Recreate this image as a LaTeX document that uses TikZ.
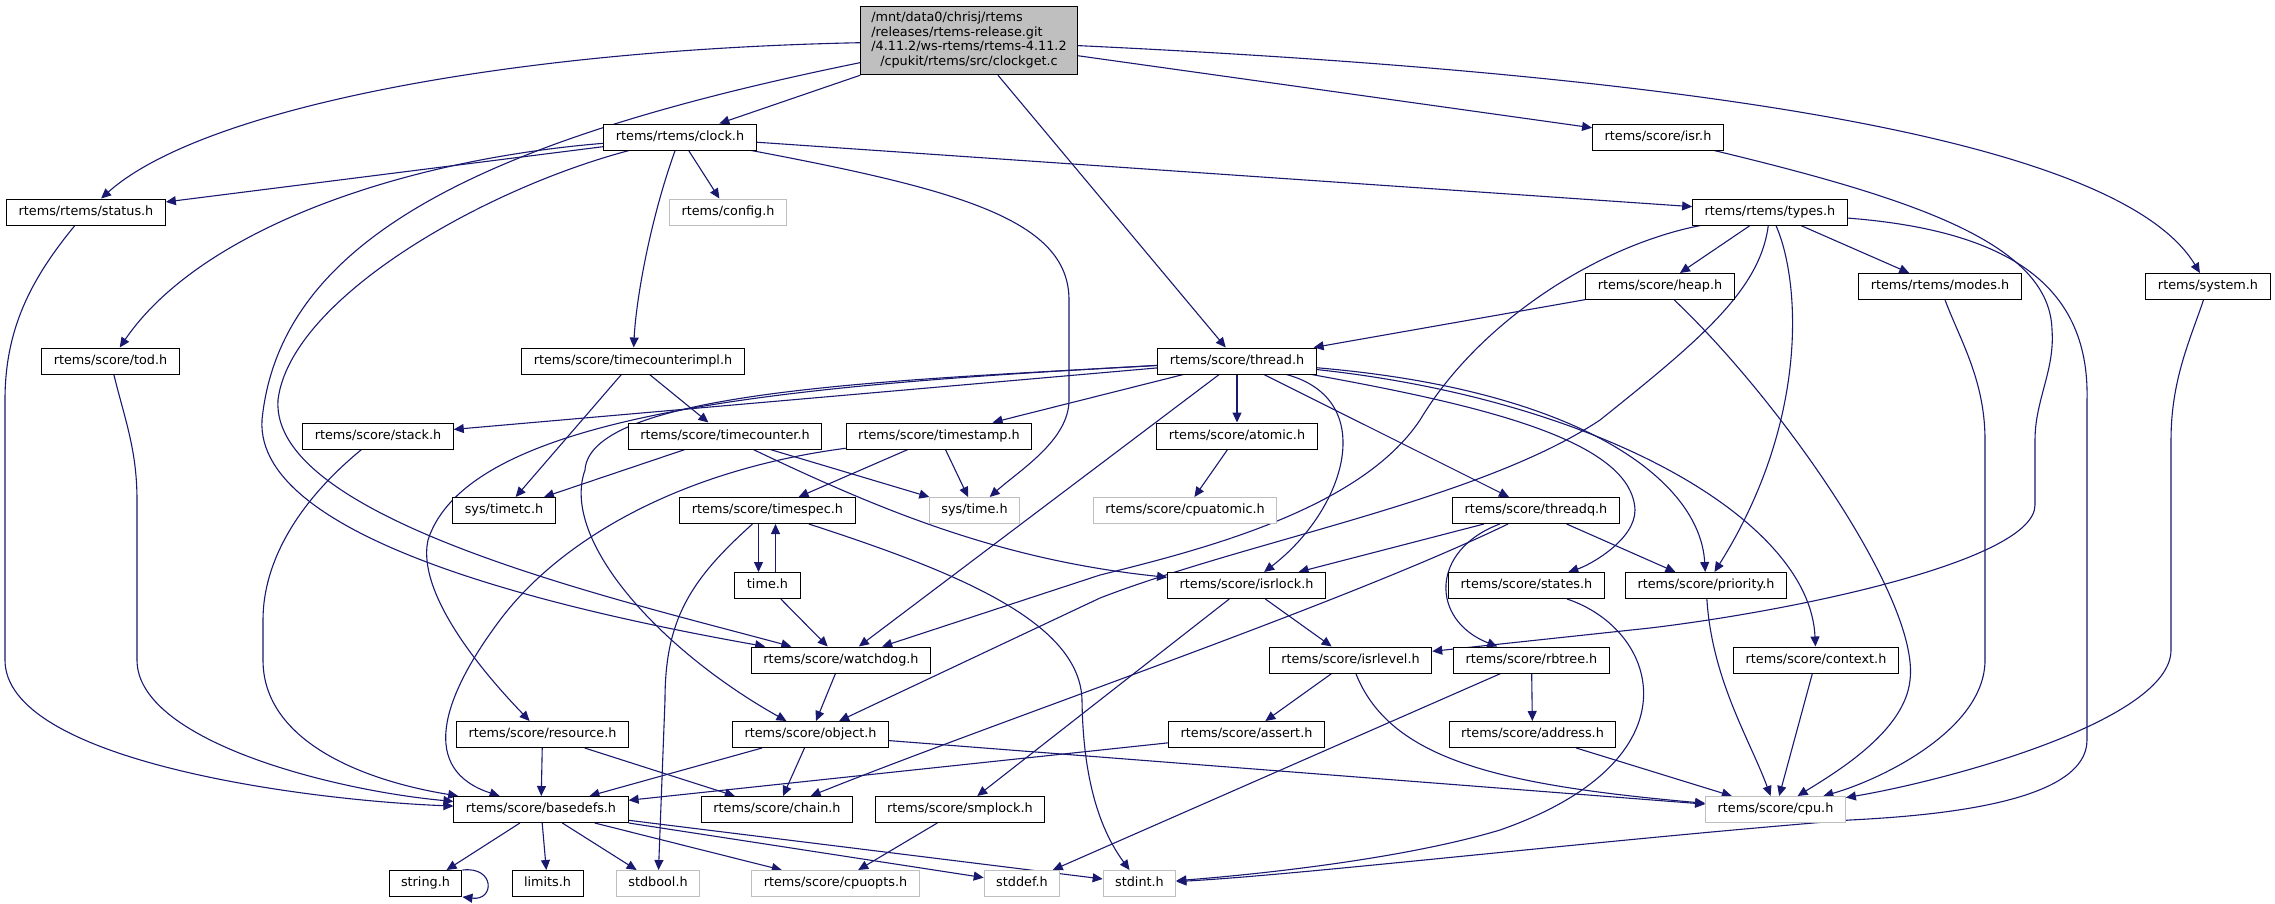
\documentclass[tikz,border=0pt]{standalone}
\usepackage{xcolor}
\usepackage{fontspec}
\setmainfont{DejaVu Sans}
\usepackage{tikz}
\usetikzlibrary{arrows.meta,backgrounds}

\definecolor{midblue}{RGB}{25,25,112}
\definecolor{grey75}{RGB}{191,191,191}

\tikzset{
  hbox/.style={draw=black, fill=white, line width=1pt, inner xsep=12pt,
    font=\fontsize{12.8pt}{14.6pt}\selectfont},
  hdr/.style={hbox, minimum height=26pt, inner ysep=6.7pt, text height=9.6pt, text depth=3pt},
  syshdr/.style={hdr, draw=grey75},
  incl/.style={draw=midblue, line width=1.1pt, -{Triangle[length=10pt,width=9pt]}}
}

\begin{document}
\begin{tikzpicture}[x=1pt,y=-1pt]
\useasboundingbox (0,0) rectangle (2275,903);

% the source file
\node[hbox, fill=grey75, inner xsep=10.5pt, inner ysep=5pt] (main) at (969,40.5)
  {\begin{tabular}{@{}l@{}}/mnt/data0/chrisj/rtems\\/releases/rtems-release.git\\/4.11.2/ws-rtems/rtems-4.11.2\\\multicolumn{1}{@{}c@{}}{/cpukit/rtems/src/clockget.c}\end{tabular}};

% headers, rank by rank
\node[hdr] (clock) at (680,137) {rtems/rtems/clock.h};
\node[hdr] (isr) at (1658,137) {rtems/score/isr.h};

\node[hdr] (status) at (86,212) {rtems/rtems/status.h};
\node[syshdr] (config) at (728,212) {rtems/config.h};
\node[hdr] (types) at (1770,212) {rtems/rtems/types.h};

\node[hdr] (heap) at (1660,286.5) {rtems/score/heap.h};
\node[hdr] (modes) at (1940,286.5) {rtems/rtems/modes.h};
\node[hdr] (system) at (2208,286.5) {rtems/system.h};

\node[hdr] (tod) at (110.5,361) {rtems/score/tod.h};
\node[hdr] (tcimpl) at (633,361) {rtems/score/timecounterimpl.h};
\node[hdr] (thread) at (1237,361) {rtems/score/thread.h};

\node[hdr] (stack) at (378,436) {rtems/score/stack.h};
\node[hdr] (tcounter) at (725,436) {rtems/score/timecounter.h};
\node[hdr] (tstamp) at (939,436) {rtems/score/timestamp.h};
\node[hdr] (atomic) at (1237,436) {rtems/score/atomic.h};

\node[hdr] (timetc) at (504,510.5) {sys/timetc.h};
\node[hdr] (tspec) at (767.5,510.5) {rtems/score/timespec.h};
\node[syshdr] (systime) at (974.5,510.5) {sys/time.h};
\node[syshdr] (cpuatomic) at (1185,510.5) {rtems/score/cpuatomic.h};
\node[hdr] (threadq) at (1536,510.5) {rtems/score/threadq.h};

\node[hdr] (timeh) at (767.5,585.5) {time.h};
\node[hdr] (isrlock) at (1246.5,585.5) {rtems/score/isrlock.h};
\node[hdr] (states) at (1526.5,585.5) {rtems/score/states.h};
\node[hdr] (priority) at (1706,585.5) {rtems/score/priority.h};

\node[hdr] (watchdog) at (841,660) {rtems/score/watchdog.h};
\node[hdr] (isrlevel) at (1350.5,660) {rtems/score/isrlevel.h};
\node[hdr] (rbtree) at (1531.5,660) {rtems/score/rbtree.h};
\node[hdr] (context) at (1816,660) {rtems/score/context.h};

\node[hdr] (resource) at (542.5,734.5) {rtems/score/resource.h};
\node[hdr] (object) at (810.5,734.5) {rtems/score/object.h};
\node[hdr] (assert) at (1246.5,734.5) {rtems/score/assert.h};
\node[hdr] (address) at (1532.5,734.5) {rtems/score/address.h};

\node[hdr] (basedefs) at (541,809.5) {rtems/score/basedefs.h};
\node[hdr] (chain) at (777,809.5) {rtems/score/chain.h};
\node[hdr] (smplock) at (960,809.5) {rtems/score/smplock.h};
\node[syshdr] (cpu) at (1775.5,809.5) {rtems/score/cpu.h};

\node[hdr] (string) at (425.5,883.5) {string.h};
\node[hdr] (limits) at (547.5,883.5) {limits.h};
\node[syshdr] (stdbool) at (658,883.5) {stdbool.h};
\node[syshdr] (cpuopts) at (835.5,883.5) {rtems/score/cpuopts.h};
\node[syshdr] (stddef) at (1022,883.5) {stddef.h};
\node[syshdr] (stdint) at (1139.5,883.5) {stdint.h};

\begin{pgfonlayer}{background}
% includes of the source file
\draw[incl] (main) .. controls (500,50) and (200,110) .. (status);
\draw[incl] (main.south west) -- (clock);
\draw[incl] (main) -- (isr);
\draw[incl] (main) .. controls (1700,75) and (2120,140) .. (system);
\draw[incl] (main) -- (thread);
\draw[incl] (main) .. controls (480,140) and (280,240) .. (262,420) .. controls (255,540) and (560,610) .. (watchdog);

% clock.h
\draw[incl] (clock) -- (status);
\draw[incl] (clock) .. controls (400,160) and (200,230) .. (tod);
\draw[incl] (clock) -- (config);
\draw[incl] (clock) .. controls (650,220) and (636,300) .. (tcimpl);
\draw[incl] (clock) .. controls (960,190) and (1069,220) .. (1069,300) -- (1069,400) .. controls (1069,440) and (1020,470) .. (systime);
\draw[incl] (clock) -- (types);
\draw[incl] (clock) .. controls (480,190) and (290,300) .. (278,400) .. controls (270,520) and (620,600) .. (watchdog);

% isr.h
\draw[incl] (isr) .. controls (1920,200) and (2050,245) .. (2052,330) .. controls (2055,370) and (2035,400) .. (2035,440) -- (2035,505) .. controls (2035,560) and (1800,610) .. (1650,628) -- (isrlevel);

% types.h
\draw[incl] (types) -- (heap);
\draw[incl] (types) -- (modes);
\draw[incl] (types) .. controls (1800,280) and (1810,420) .. (priority);
\draw[incl] (types) .. controls (1600,245) and (1480,320) .. (1420,420) .. controls (1360,510) and (1200,550) .. (1100,575) -- (watchdog);
\draw[incl] (types) .. controls (1760,290) and (1700,340) .. (1600,420) .. controls (1480,500) and (1250,540) .. (1100,598) -- (object);
\draw[incl] (types) .. controls (2000,230) and (2090,280) .. (2087,400) -- (2087,740) .. controls (2087,800) and (1950,815) .. (1850,820) .. controls (1600,840) and (1300,875) .. (stdint);

% heap.h, modes.h, system.h
\draw[incl] (heap) -- (thread);
\draw[incl] (heap) .. controls (1780,400) and (1920,600) .. (1910,680) .. controls (1905,730) and (1840,770) .. (cpu);
\draw[incl] (modes) .. controls (1960,340) and (1985,380) .. (1985,440) -- (1985,660) .. controls (1985,730) and (1880,780) .. (cpu);
\draw[incl] (system) .. controls (2190,340) and (2171,380) .. (2171,440) -- (2171,650) .. controls (2171,720) and (1950,780) .. (cpu);

% status.h, tod.h, stack.h
\draw[incl] (status) .. controls (30,280) and (5,330) .. (5,400) -- (5,660) .. controls (5,760) and (300,800) .. (basedefs);
\draw[incl] (tod) .. controls (125,420) and (137,450) .. (137,500) -- (137,660) .. controls (137,740) and (330,790) .. (basedefs);
\draw[incl] (stack) .. controls (300,500) and (263,560) .. (263,620) -- (263,660) .. controls (263,740) and (360,780) .. (basedefs);

% timecounter headers
\draw[incl] (tcimpl) -- (timetc);
\draw[incl] (tcimpl) -- (tcounter);
\draw[incl] (tcounter) -- (timetc);
\draw[incl] (tcounter) -- (systime);
\draw[incl] (tcounter) .. controls (880,510) and (1000,560) .. (isrlock);

% thread.h
\draw[incl] (thread) -- (stack);
\draw[incl] (thread) -- (tstamp);
\draw[incl] (thread) -- (atomic);
\draw[incl] (thread) -- (watchdog);
\draw[incl] (thread) -- (threadq);
\draw[incl] (thread) .. controls (900,380) and (590,390) .. (585,470) .. controls (560,540) and (660,650) .. (object);
\draw[incl] (thread) .. controls (800,385) and (470,410) .. (428,540) .. controls (415,600) and (500,690) .. (resource);
\draw[incl] (thread) .. controls (1380,400) and (1345,510) .. (isrlock);
\draw[incl] (thread) .. controls (1480,405) and (1632,440) .. (1635,510) .. controls (1635,540) and (1590,565) .. (states);
\draw[incl] (thread) .. controls (1580,390) and (1700,480) .. (priority);
\draw[incl] (thread) .. controls (1600,400) and (1810,520) .. (context);

% atomic.h, timestamp.h, timespec.h, time.h
\draw[incl] (atomic) -- (cpuatomic);
\draw[incl] (tstamp) -- (tspec);
\draw[incl] (tstamp) -- (systime);
\draw[incl] (tstamp) .. controls (680,470) and (560,540) .. (500,620) .. controls (440,700) and (420,770) .. (basedefs);
\draw[incl] ([xshift=-9pt]tspec.south) -- ([xshift=-9pt]timeh.north);
\draw[incl] ([xshift=8pt]timeh.north) -- ([xshift=8pt]tspec.south);
\draw[incl] (tspec) .. controls (690,580) and (665,620) .. (665,700) -- (stdbool);
\draw[incl] (tspec) .. controls (950,570) and (1080,620) .. (1082,700) .. controls (1083,780) and (1100,830) .. (stdint);
\draw[incl] (timeh) -- (watchdog);

% threadq.h, isrlock.h, states.h, priority.h
\draw[incl] (threadq) -- (isrlock);
\draw[incl] (threadq) -- (priority);
\draw[incl] (threadq) .. controls (1430,550) and (1430,620) .. (rbtree);
\draw[incl] (threadq) .. controls (1340,605) and (1000,720) .. (chain);
\draw[incl] (isrlock) -- (isrlevel);
\draw[incl] (isrlock) -- (smplock);
\draw[incl] (states) .. controls (1660,630) and (1700,760) .. (1500,830) .. controls (1400,860) and (1250,875) .. (stdint);
\draw[incl] (priority) .. controls (1712,680) and (1750,740) .. (cpu);

% watchdog.h, isrlevel.h, rbtree.h, context.h
\draw[incl] (watchdog) -- (object);
\draw[incl] (isrlevel) -- (assert);
\draw[incl] (isrlevel) .. controls (1390,760) and (1500,785) .. (cpu);
\draw[incl] (rbtree) -- (address);
\draw[incl] (rbtree) -- (stddef);
\draw[incl] (context) -- (cpu);

% resource.h, object.h, assert.h, address.h
\draw[incl] (resource) -- (basedefs);
\draw[incl] (resource) -- (chain);
\draw[incl] (object) -- (basedefs);
\draw[incl] (object) -- (chain);
\draw[incl] (object) -- (cpu);
\draw[incl] (assert) -- (basedefs);
\draw[incl] (address) -- (cpu);

% basedefs.h, smplock.h
\draw[incl] (smplock) -- (cpuopts);
\draw[incl] (basedefs) -- (string);
\draw[incl] (basedefs) -- (limits);
\draw[incl] (basedefs) -- (stdbool);
\draw[incl] (basedefs) -- (cpuopts);
\draw[incl] (basedefs) -- (stddef);
\draw[incl] (basedefs) -- (stdint);
\draw[incl] (string.20) .. controls (495,866) and (495,901) .. (string.-20);
\end{pgfonlayer}
\end{tikzpicture}
\end{document}
